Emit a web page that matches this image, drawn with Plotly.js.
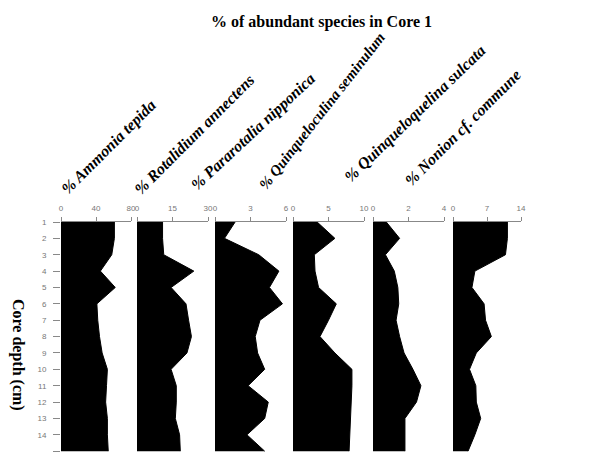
<!DOCTYPE html>
<html>
<head>
<meta charset="utf-8">
<script src="https://cdn.plot.ly/plotly-3.0.1.min.js"></script>
<style>html,body{margin:0;padding:0;overflow:hidden;background:#fff;}#chart{width:602px;height:452px;}</style>
</head>
<body>
<div id="chart"></div>
<script>
const depth = [1,2,3,4,5,6,7,8,9,10,11,12,13,14,15];
const ammoniaTepida = [61,61,58,45,62,41,42,44,47,53,52,51,53,53,54];
const rotalidiumAnnectens = [10.8,10.8,11.3,24,14.4,20.7,21.8,23,21.1,14.4,16.6,16.6,16.2,18,18.3];
const pararotaliaNipponica = [1.7,0.8,3.7,5.4,4.6,5.7,3.8,3.4,3.6,4.2,2.8,4.5,4.2,2.7,4.2];
const quinqSeminulum = [3.4,5.9,3.0,3.1,3.6,6.1,5.0,3.8,5.9,8.3,8.3,8.2,8.0,7.9,7.9];
const quinqSulcata = [0.75,1.5,0.7,1.2,1.4,1.45,1.3,1.5,1.75,2.25,2.7,2.45,1.8,1.8,1.8];
const nonionCommune = [11.2,11.2,10.8,4.5,3.9,6.4,6.7,7.9,4.8,3.4,4.7,4.8,5.7,4.5,3.1];

const speciesNames = ["% Ammonia tepida","% Rotalidium annectens","% Pararotalia nipponica","% Quinqueloculina seminulum","% Quinqueloquelina sulcata","% Nonion cf. commune"];
const seriesList = [ammoniaTepida, rotalidiumAnnectens, pararotaliaNipponica, quinqSeminulum, quinqSulcata, nonionCommune];
const axisMax = [80,30,6,10,4,14];
const tickValues = [[0,40,80],[0,15,30],[0,3,6],[0,5,10],[0,2,4],[0,7,14]];
const depthTicks = [1,2,3,4,5,6,7,8,9,10,11,12,13,14,15];
const chartTitle = "% of abundant species in Core 1";
const yTitle = "Core depth (cm)";

const W = 602, H = 452;
const panelPx = [[61,131],[137,208],[215,286],[293,364],[373,444],[453,521]];
const labelCenters = [[109,147],[194,134],[253,132],[322,111],[415,114],[463,128]];
const labelAngles = [-45,-45,-43,-52,-44,-45];
const labelSizes = [16,16,16,15,16,16];
const topPx = 222;

const traces = [];
const layout = {
  width: W, height: H,
  margin: {l:0,r:0,t:0,b:0},
  paper_bgcolor: '#fff', plot_bgcolor: '#fff',
  showlegend: false,
  annotations: []
};
const tickFont = {family: 'Liberation Sans, Arial, sans-serif', size: 8, color: '#777'};

seriesList.forEach((vals, i) => {
  const n = i + 1;
  const xa = n === 1 ? 'x' : 'x' + n;
  const ya = n === 1 ? 'y' : 'y' + n;
  traces.push({
    type: 'scatter', mode: 'lines',
    x: vals, y: depth,
    xaxis: xa, yaxis: ya,
    fill: 'tozerox', fillcolor: '#000',
    line: {color: '#000', width: 1},
    hoverinfo: 'skip'
  });
  const xkey = n === 1 ? 'xaxis' : 'xaxis' + n;
  const ykey = n === 1 ? 'yaxis' : 'yaxis' + n;
  layout[xkey] = {
    domain: [panelPx[i][0]/W, panelPx[i][1]/W],
    range: [0, axisMax[i]],
    anchor: ya, side: 'top',
    showline: true, linecolor: '#888', linewidth: 1,
    ticks: 'outside', ticklen: 4, tickcolor: '#888',
    tickvals: tickValues[i], ticktext: tickValues[i].map(String),
    tickfont: tickFont, ticklabelstandoff: 3,
    showgrid: false, zeroline: false, fixedrange: true
  };
  const yax = {
    domain: [0, (H - topPx)/H],
    range: [15.05, 1],
    anchor: xa,
    showgrid: false, zeroline: false, fixedrange: true
  };
  if (n === 1) {
    Object.assign(yax, {
      showline: false,
      ticks: 'outside', ticklen: 7, tickcolor: '#888',
      tickvals: depthTicks, ticktext: depthTicks.map(String),
      tickfont: tickFont, ticklabelstandoff: 5
    });
  } else {
    Object.assign(yax, {showticklabels: false, showline: false, ticks: ''});
  }
  layout[ykey] = yax;
  layout.annotations.push({
    xref: 'paper', yref: 'paper',
    x: labelCenters[i][0]/W, y: 1 - labelCenters[i][1]/H,
    xanchor: 'center', yanchor: 'middle',
    text: '<b><i>' + speciesNames[i] + '</i></b>',
    textangle: labelAngles[i], showarrow: false,
    font: {family: 'Liberation Serif, Times New Roman, serif', size: labelSizes[i], color: '#000'}
  });
});

layout.annotations.push({
  xref: 'paper', yref: 'paper', x: 322/W, y: 1 - 22/H,
  xanchor: 'center', yanchor: 'middle', showarrow: false,
  text: '<b>' + chartTitle + '</b>',
  font: {family: 'Liberation Serif, Times New Roman, serif', size: 16, color: '#000'}
});
layout.annotations.push({
  xref: 'paper', yref: 'paper', x: 18/W, y: 1 - 355/H,
  xanchor: 'center', yanchor: 'middle', showarrow: false, textangle: 90,
  text: '<b>' + yTitle + '</b>',
  font: {family: 'Liberation Serif, Times New Roman, serif', size: 16, color: '#000'}
});

Plotly.newPlot('chart', traces, layout, {displayModeBar: false, staticPlot: true});
</script>
</body>
</html>
